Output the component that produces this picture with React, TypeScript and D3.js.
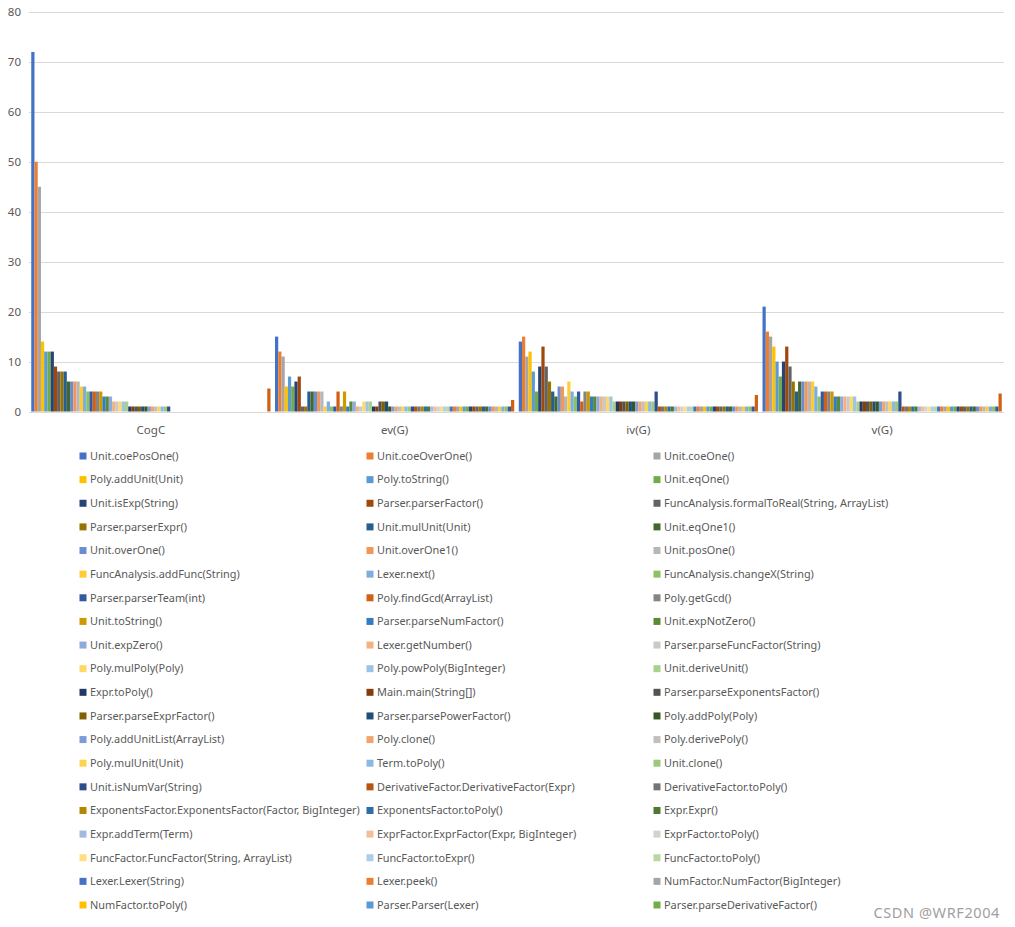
import * as d3 from 'd3'

const categories = ['CogC', 'ev(G)', 'iv(G)', 'v(G)']

// legend only shows the first 60 series (Excel truncates it)
const seriesNames = [
  'Unit.coePosOne()', 'Unit.coeOverOne()', 'Unit.coeOne()',
  'Poly.addUnit(Unit)', 'Poly.toString()', 'Unit.eqOne()',
  'Unit.isExp(String)', 'Parser.parserFactor()', 'FuncAnalysis.formalToReal(String, ArrayList)',
  'Parser.parserExpr()', 'Unit.mulUnit(Unit)', 'Unit.eqOne1()',
  'Unit.overOne()', 'Unit.overOne1()', 'Unit.posOne()',
  'FuncAnalysis.addFunc(String)', 'Lexer.next()', 'FuncAnalysis.changeX(String)',
  'Parser.parserTeam(int)', 'Poly.findGcd(ArrayList)', 'Poly.getGcd()',
  'Unit.toString()', 'Parser.parseNumFactor()', 'Unit.expNotZero()',
  'Unit.expZero()', 'Lexer.getNumber()', 'Parser.parseFuncFactor(String)',
  'Poly.mulPoly(Poly)', 'Poly.powPoly(BigInteger)', 'Unit.deriveUnit()',
  'Expr.toPoly()', 'Main.main(String[])', 'Parser.parseExponentsFactor()',
  'Parser.parseExprFactor()', 'Parser.parsePowerFactor()', 'Poly.addPoly(Poly)',
  'Poly.addUnitList(ArrayList)', 'Poly.clone()', 'Poly.derivePoly()',
  'Poly.mulUnit(Unit)', 'Term.toPoly()', 'Unit.clone()',
  'Unit.isNumVar(String)', 'DerivativeFactor.DerivativeFactor(Expr)', 'DerivativeFactor.toPoly()',
  'ExponentsFactor.ExponentsFactor(Factor, BigInteger)', 'ExponentsFactor.toPoly()', 'Expr.Expr()',
  'Expr.addTerm(Term)', 'ExprFactor.ExprFactor(Expr, BigInteger)', 'ExprFactor.toPoly()',
  'FuncFactor.FuncFactor(String, ArrayList)', 'FuncFactor.toExpr()', 'FuncFactor.toPoly()',
  'Lexer.Lexer(String)', 'Lexer.peek()', 'NumFactor.NumFactor(BigInteger)',
  'NumFactor.toPoly()', 'Parser.Parser(Lexer)', 'Parser.parseDerivativeFactor()',
]

// one value per series (74 series)
const cogcValues = [
  72, 50, 45, 14, 12, 12, 12, 9, 8, 8, 8, 6, 6, 6, 6, 5, 5, 4, 4, 4,
  4, 4, 3, 3, 3, 2, 2, 2, 2, 2, 1, 1, 1, 1, 1, 1, 1, 1, 1, 1,
  1, 1, 1, 0, 0, 0, 0, 0, 0, 0, 0, 0, 0, 0, 0, 0, 0, 0, 0, 0,
  0, 0, 0, 0, 0, 0, 0, 0, 0, 0, 0, 0, 0, 4.6,
]
const evValues = [
  15, 12, 11, 5, 7, 5, 6, 7, 1, 1, 4, 4, 4, 4, 4, 1, 2, 1, 1, 4,
  1, 4, 1, 2, 2, 1, 1, 2, 2, 2, 1, 1, 2, 2, 2, 1, 1, 1, 1, 1,
  1, 1, 1, 1, 1, 1, 1, 1, 1, 1, 1, 1, 1, 1, 1, 1, 1, 1, 1, 1,
  1, 1, 1, 1, 1, 1, 1, 1, 1, 1, 1, 1, 1, 2.3,
]
const ivValues = [
  14, 15, 11, 12, 8, 4, 9, 13, 9, 6, 4, 3, 5, 5, 3, 6, 4, 3, 4, 2,
  4, 4, 3, 3, 3, 3, 3, 3, 3, 2, 2, 2, 2, 2, 2, 2, 2, 2, 2, 2,
  2, 2, 4, 1, 1, 1, 1, 1, 1, 1, 1, 1, 1, 1, 1, 1, 1, 1, 1, 1,
  1, 1, 1, 1, 1, 1, 1, 1, 1, 1, 1, 1, 1, 3.3,
]
const vValues = [
  21, 16, 15, 13, 10, 7, 10, 13, 9, 6, 4, 6, 6, 6, 6, 6, 5, 3, 4, 4,
  4, 4, 3, 3, 3, 3, 3, 3, 3, 2, 2, 2, 2, 2, 2, 2, 2, 2, 2, 2,
  2, 2, 4, 1, 1, 1, 1, 1, 1, 1, 1, 1, 1, 1, 1, 1, 1, 1, 1, 1,
  1, 1, 1, 1, 1, 1, 1, 1, 1, 1, 1, 1, 1, 3.6,
]

const yTicks = [0, 10, 20, 30, 40, 50, 60, 70, 80]

const W = 1015
const H = 927
const FONT = '"Noto Sans", sans-serif'
const TEXT = '#595959'
const GRID = '#D9D9D9'

// office accents + the lum variations Excel cycles through
const accents = ['#4472C4', '#ED7D31', '#A5A5A5', '#FFC000', '#5B9BD5', '#70AD47']
const lumVariations = [[1, 0], [0.6, 0], [0.8, 0.2], [0.8, 0], [0.6, 0.4], [0.5, 0], [0.7, 0.3], [0.7, 0], [0.5, 0.5]]

function seriesColor(i: number) {
  const c = d3.hsl(accents[i % 6])
  const [mod, off] = lumVariations[Math.floor(i / 6) % lumVariations.length]
  c.l = c.l * mod + off
  return c.formatHex()
}

export default function App() {
  const valuesByCat = [cogcValues, evValues, ivValues, vValues]
  const nSeries = cogcValues.length

  const x = d3.scaleBand<string>()
    .domain(categories)
    .range([29, 1004])
    .paddingInner(0.0185)
    .paddingOuter(0.00925)

  const xs = d3.scaleBand<number>()
    .domain(d3.range(nSeries))
    .range([0, x.bandwidth()])

  const y = d3.scaleLinear().domain([0, 80]).range([411.5, 12])

  const legendCol = d3.scaleOrdinal<number, number>().domain([0, 1, 2]).range([79.5, 366.5, 653.5])
  const legendRow = d3.scaleLinear().domain([0, 19]).range([456, 905])

  return (
    <div style={{ position: 'absolute', left: 0, top: 0 }}>
      <svg width={W} height={H} style={{ display: 'block', background: '#fff' }}>
        {/* grid */}
        {yTicks.map((t) => (
          <line key={'g' + t} x1={29} x2={1004} y1={Math.round(y(t)) + 0.5} y2={Math.round(y(t)) + 0.5}
            stroke={GRID} strokeWidth={1} />
        ))}
        {yTicks.map((t) => (
          <text key={'t' + t} x={21} y={y(t)} dy="0.35em" textAnchor="end"
            fontFamily={FONT} fontSize={11.5} fill={TEXT}>{t}</text>
        ))}

        {/* bars */}
        {categories.map((cat, ci) => (
          <g key={cat} transform={`translate(${x(cat)},0)`}>
            {valuesByCat[ci].map((v, si) => v > 0 && (
              <rect key={si} x={xs(si)} width={xs.bandwidth()} y={y(v)} height={y(0) - y(v)}
                fill={seriesColor(si)} />
            ))}
          </g>
        ))}

        {/* category labels */}
        {categories.map((cat) => (
          <text key={'c' + cat} x={(x(cat) || 0) + x.bandwidth() / 2} y={430} dy="0.35em" textAnchor="middle"
            fontFamily={FONT} fontSize={11.5} fill={TEXT}>{cat}</text>
        ))}

        {/* legend */}
        {seriesNames.map((name, i) => {
          const cx = legendCol(i % 3)
          const cy = legendRow(Math.floor(i / 3))
          return (
            <g key={'l' + i}>
              <rect x={cx} y={cy - 3.5} width={7} height={7} fill={seriesColor(i)} />
              <text x={cx + 10.5} y={cy} dy="0.35em" fontFamily={FONT} fontSize={10.9} fill={TEXT}>{name}</text>
            </g>
          )
        })}

        <text x={1000} y={913} dy="0.35em" textAnchor="end" fontFamily={FONT} fontSize={14.5}
          letterSpacing={0.6} fill="#a0a0a0">CSDN @WRF2004</text>
      </svg>
    </div>
  )
}
